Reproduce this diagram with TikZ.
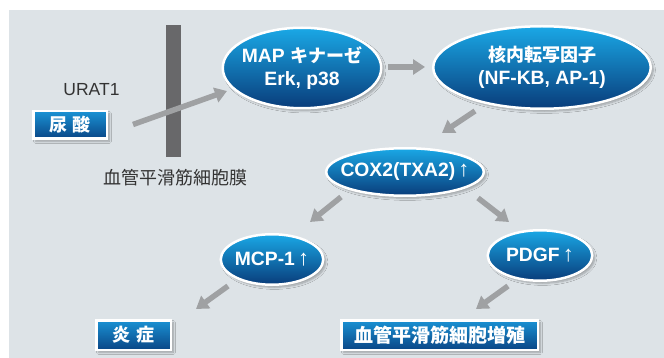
\documentclass[tikz,border=0pt]{standalone}
\usepackage{fontspec}
\setmainfont{Liberation Sans}
\newfontfamily\jp{Noto Sans CJK JP}
\usetikzlibrary{shapes.geometric,arrows.meta,calc,shadows.blur}
\definecolor{panel}{HTML}{DDE3E7}
\definecolor{etop}{HTML}{1AA8E6}
\definecolor{emid}{HTML}{0A72BA}
\definecolor{ebot}{HTML}{093C7A}
\definecolor{btop}{HTML}{1A92D4}
\definecolor{bbot}{HTML}{0A4686}
\definecolor{arrgray}{HTML}{9FA1A3}
\definecolor{bargray}{HTML}{68686A}
\definecolor{dtext}{HTML}{333333}
\newcommand{\jpt}[1]{{\jp\fontsize{18}{23}\selectfont #1}}
\newcommand{\uparr}{\,{\mdseries\fontsize{22}{23}\selectfont ↑}}
\begin{document}
\begin{tikzpicture}[x=1pt,y=-1pt,
  shad/.style={blur shadow={shadow xshift=2.5pt,shadow yshift=-2.5pt,shadow opacity=30,shadow blur steps=6}},
  ell/.style={ellipse, draw=white, line width=2.5pt, top color=etop, middle color=emid, bottom color=ebot, inner sep=0pt, shad},
  etext/.style={text=white, font=\bfseries\fontsize{19.3}{23}\selectfont, align=center, inner sep=0pt},
  bluebox/.style={rectangle, draw=white, line width=2.5pt, top color=btop, bottom color=bbot, inner sep=0pt, text=white, font=\jp\bfseries\fontsize{18}{22}\selectfont, shad},
  arr/.style={draw=arrgray, line width=5.5pt, -{Triangle[width=15pt,length=12pt]}},
  plain/.style={text=dtext, inner sep=0pt}
]
\useasboundingbox (0,0) rectangle (664,358);
\fill[panel] (9,10) rectangle (664,358);

% membrane bar
\node[rectangle, fill=bargray, minimum width=15pt, minimum height=132pt, inner sep=0pt] (bar) at (173.5,91) {};
\node[plain, font=\fontsize{17.5}{20}\selectfont] (urat) at (91.5,90) {URAT1};
\node[plain, font=\jp\fontsize{18}{20}\selectfont] (maku) at (175,177.5) {血管平滑筋細胞膜};

% boxes
\node[bluebox, minimum width=73.5pt, minimum height=27.5pt] (nyosan) at (70,125) {尿\hspace{6pt}酸};
\node[bluebox, minimum width=74.5pt, minimum height=29.5pt] (ensho) at (133.5,335) {炎\hspace{6pt}症};
\node[bluebox, minimum width=196.5pt, minimum height=29.5pt, font=\jp\bfseries\fontsize{19}{22}\selectfont] (zoshoku) at (439.5,335) {血管平滑筋細胞増殖};

% ellipses
\node[ell, minimum width=158.5pt, minimum height=80.5pt,
  label={[etext]center:{MAP \jpt{キナーゼ}\\Erk, p38}}] (map) at (302,68) {};
\node[ell, minimum width=217.5pt, minimum height=82.5pt,
  label={[etext]center:{\jpt{核内転写因子}\\(NF-KB, AP-1)}}] (kaku) at (542,67.5) {};
\node[ell, minimum width=157.5pt, minimum height=47.5pt,
  label={[etext]center:{COX2(TXA2)\uparr}}] (cox) at (405,172) {};
\node[ell, minimum width=102.5pt, minimum height=50.5pt,
  label={[etext]center:{MCP-1\uparr}}] (mcp) at (272,259.5) {};
\node[ell, minimum width=104.5pt, minimum height=50.5pt,
  label={[etext]center:{PDGF\uparr}}] (pdgf) at (540,255.5) {};

% arrows
\draw[arr] ($(nyosan)+(63,-0.5)$) -- ($(map)+(-75,23)$);
\draw[arr] ($(map)+(86,-1)$) -- ($(kaku)+(-117,-0.5)$);
\draw[arr] ($(kaku)+(-67,43.5)$) -- ($(cox)+(37,-39)$);
\draw[arr] ($(cox)+(-64,25)$) -- ($(mcp)+(38,-37.5)$);
\draw[arr] ($(cox)+(73,26)$) -- ($(pdgf)+(-31,-33.5)$);
\draw[arr] ($(mcp)+(-44,26.5)$) -- ($(ensho)+(62.5,-26)$);
\draw[arr] ($(pdgf)+(-32,30.5)$) -- ($(zoshoku)+(36.5,-26)$);
\end{tikzpicture}
\end{document}
